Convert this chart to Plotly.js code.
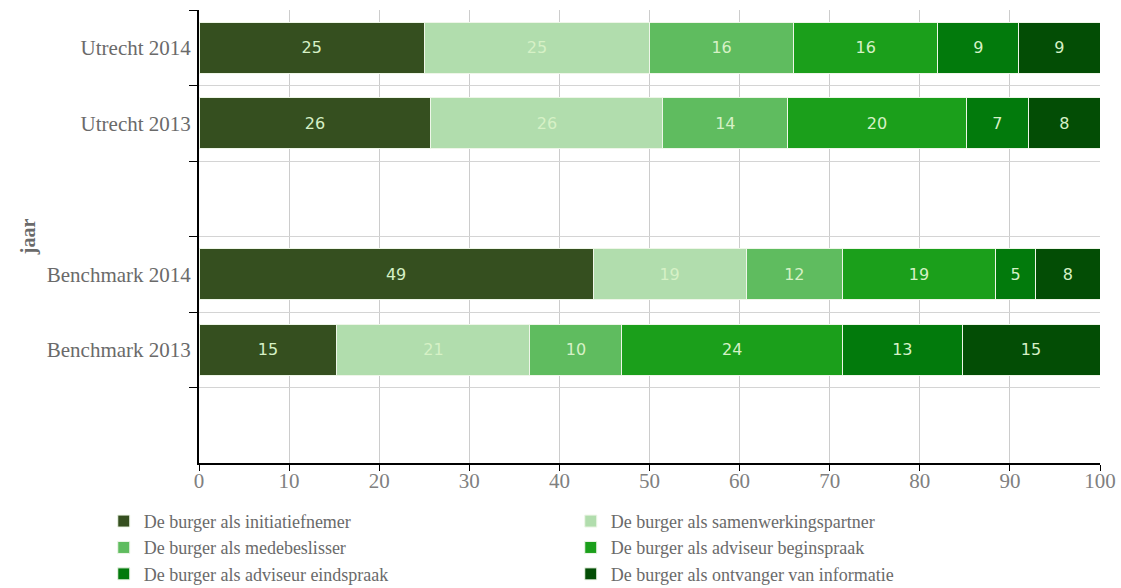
<!DOCTYPE html>
<html>
<head>
<meta charset="utf-8">
<script src="https://cdn.plot.ly/plotly-3.0.1.min.js"></script>
<style>html,body{margin:0;padding:0;background:#fff;}#chart{width:1121px;height:588px;}</style>
</head>
<body>
<div id="chart"></div>
<script>
const categories = ["Utrecht 2014", "Utrecht 2013", " ", "Benchmark 2014", "Benchmark 2013", "  "];
const seriesNames = [
  "De burger als initiatiefnemer",
  "De burger als samenwerkingspartner",
  "De burger als medebeslisser",
  "De burger als adviseur beginspraak",
  "De burger als adviseur eindspraak",
  "De burger als ontvanger van informatie"
];
const initiatiefnemer = [25, 26, null, 49, 15, null];
const samenwerkingspartner = [25, 26, null, 19, 21, null];
const medebeslisser = [16, 14, null, 12, 10, null];
const adviseurBeginspraak = [16, 20, null, 19, 24, null];
const adviseurEindspraak = [9, 7, null, 5, 13, null];
const ontvangerInformatie = [9, 8, null, 8, 15, null];
const xTicks = [0, 10, 20, 30, 40, 50, 60, 70, 80, 90, 100];

const seriesValues = [initiatiefnemer, samenwerkingspartner, medebeslisser, adviseurBeginspraak, adviseurEindspraak, ontvangerInformatie];
const colors = ["#354f1f", "#b1ddad", "#5fbc5f", "#1b9f1b", "#027a0c", "#034d05"];

const traces = seriesValues.map((vals, i) => ({
  type: "bar",
  orientation: "h",
  name: seriesNames[i],
  y: categories,
  x: vals,
  text: vals.map(v => v === null ? "" : String(v)),
  textposition: "inside",
  insidetextanchor: "middle",
  textangle: 0,
  constraintext: "none",
  textfont: {family: "DejaVu Sans", size: 16, color: "#d6f1c6"},
  marker: {color: colors[i], line: {color: "#eef6e8", width: 1}},
  width: 0.68
}));

const layout = {
  width: 1121,
  height: 588,
  margin: {l: 199, r: 21, t: 10, b: 125, autoexpand: false},
  barmode: "stack",
  barnorm: "percent",
  paper_bgcolor: "#ffffff",
  plot_bgcolor: "#ffffff",
  showlegend: true,
  legend: {
    orientation: "h",
    x: -0.1057, y: -0.088,
    xanchor: "left", yanchor: "top",
    entrywidth: 422, entrywidthmode: "pixels",
    traceorder: "normal",
    font: {family: "Liberation Serif", size: 18, color: "#6a6a6a"},
    tracegroupgap: 0,
    itemclick: false
  },
  xaxis: {
    range: [0, 100],
    tickvals: xTicks,
    ticktext: xTicks.map(String),
    showgrid: true,
    gridcolor: "#cccccc",
    gridwidth: 1,
    zeroline: false,
    showline: true,
    linecolor: "#000000",
    linewidth: 2,
    ticks: "outside",
    ticklen: 6,
    tickcolor: "#000000",
    ticklabelstandoff: -8,
    tickfont: {family: "Liberation Serif", size: 21, color: "#808080"},
    automargin: false,
    fixedrange: true
  },
  yaxis: {
    type: "category",
    categoryorder: "array",
    categoryarray: categories,
    range: [5.5, -0.5],
    tickson: "boundaries",
    showgrid: true,
    gridcolor: "#d4d4d4",
    gridwidth: 1,
    showline: true,
    linecolor: "#000000",
    linewidth: 2,
    ticks: "outside",
    ticklen: 8,
    tickcolor: "#000000",
    ticklabelstandoff: 2,
    tickfont: {family: "Liberation Serif", size: 21, color: "#6a6a6a"},
    title: {text: "jaar", font: {family: "Liberation Serif", size: 20, color: "#6a6a6a", weight: "bold"}, standoff: 6},
    automargin: false,
    fixedrange: true
  },
  font: {family: "Liberation Serif"}
};

Plotly.newPlot("chart", traces, layout, {displayModeBar: false, staticPlot: true});
</script>
</body>
</html>
